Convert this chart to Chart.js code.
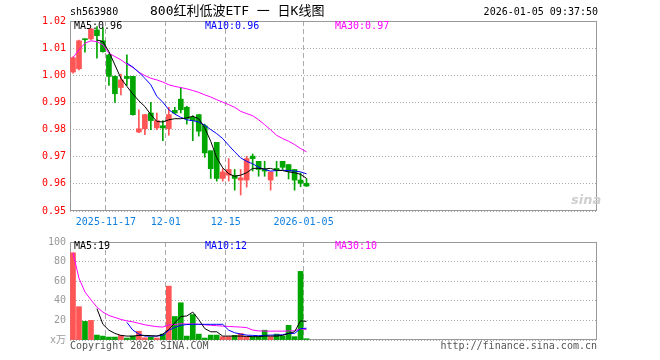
<!DOCTYPE html>
<html>
<head>
<meta charset="utf-8">
<script src="https://cdn.jsdelivr.net/npm/chart.js@4.4.1/dist/chart.umd.min.js"></script>
<style>
  body { margin: 0; background: #fff; width: 660px; height: 360px; overflow: hidden; position: relative;
         font-family: "DejaVu Sans Mono", "Noto Sans CJK SC", monospace; }
  canvas { position: absolute; left: 0; }
  .t { position: absolute; font-size: 10px; line-height: 12px; white-space: nowrap; }
</style>
</head>
<body>
<canvas id="cPrice" width="660" height="232" style="top:0"></canvas>
<canvas id="cVol" width="660" height="128" style="top:232px"></canvas>

<div class="t" style="left:70px;top:6px">sh563980</div>
<div class="t" style="left:150px;top:3px;font-size:13px;line-height:16px">800红利低波ETF 一 日K线图</div>
<div class="t" style="right:62px;top:6px">2026-01-05 09:37:50</div>

<div class="t" style="left:74px;top:20px;color:#000">MA5:0.96</div>
<div class="t" style="left:205px;top:20px;color:#00f">MA10:0.96</div>
<div class="t" style="left:335px;top:20px;color:#f0f">MA30:0.97</div>

<div class="t" style="left:74px;top:240px;color:#000">MA5:19</div>
<div class="t" style="left:205px;top:240px;color:#00f">MA10:12</div>
<div class="t" style="left:335px;top:240px;color:#f0f">MA30:10</div>

<div class="t" style="left:571px;top:192px;font:italic bold 13px 'DejaVu Sans';color:#cfcfcf">sina</div>

<div class="t" style="left:70px;top:340px;color:#555">Copyright 2026 SINA.COM</div>
<div class="t" style="right:63px;top:340px;color:#555">http://finance.sina.com.cn</div>

<script>
// 数据 (读自图片)
const dates = ["2025-11-07","2025-11-10","2025-11-11","2025-11-12","2025-11-13","2025-11-14",
  "2025-11-17","2025-11-18","2025-11-19","2025-11-20","2025-11-21",
  "2025-11-24","2025-11-25","2025-11-26","2025-11-27","2025-11-28",
  "2025-12-01","2025-12-02","2025-12-03","2025-12-04","2025-12-05",
  "2025-12-08","2025-12-09","2025-12-10","2025-12-11","2025-12-12",
  "2025-12-15","2025-12-16","2025-12-17","2025-12-18","2025-12-19",
  "2025-12-22","2025-12-23","2025-12-24","2025-12-25","2025-12-26",
  "2025-12-29","2025-12-30","2025-12-31","2026-01-05"];
const tickIdx = [6, 16, 26, 39];
const tickText = ["2025-11-17", "12-01", "12-15", "2026-01-05"];

const opens  = [1.0012,1.0024,1.0134,1.0134,1.0167,1.0127,1.0075,0.9996,0.9955,0.9996,
                0.9996,0.9791,0.9803,0.9861,0.9806,0.9814,0.9803,0.9871,0.9912,0.9882,
                0.9845,0.9855,0.9814,0.9722,0.9753,0.9620,0.9632,0.9631,0.9614,0.9614,
                0.9702,0.9683,0.9653,0.9614,0.9657,0.9683,0.9671,0.9653,0.9614,0.9602];
const closes = [1.0065,1.0127,1.0131,1.0171,1.0146,1.0087,0.9996,0.9932,0.9983,0.9988,
                0.9855,0.9803,0.9855,0.9833,0.9833,0.9806,0.9855,0.9861,0.9873,0.9840,
                0.9833,0.9794,0.9714,0.9656,0.9620,0.9644,0.9653,0.9620,0.9622,0.9693,
                0.9693,0.9653,0.9647,0.9644,0.9650,0.9661,0.9647,0.9614,0.9602,0.9592];
const highs  = [1.0068,1.0130,1.0134,1.0173,1.0179,1.0176,1.0078,0.9998,1.0004,1.0075,
                0.9996,0.9873,0.9856,0.9900,0.9861,0.9833,0.9882,0.9882,0.9955,0.9886,
                0.9851,0.9855,0.9820,0.9722,0.9753,0.9656,0.9693,0.9653,0.9653,0.9702,
                0.9710,0.9683,0.9683,0.9644,0.9683,0.9683,0.9671,0.9653,0.9640,0.9619];
const lows   = [1.0008,1.0020,1.0085,1.0130,1.0063,1.0085,0.9963,0.9900,0.9928,0.9963,
                0.9853,0.9789,0.9781,0.9800,0.9800,0.9759,0.9779,0.9859,0.9861,0.9820,
                0.9759,0.9776,0.9698,0.9620,0.9610,0.9610,0.9610,0.9577,0.9559,0.9588,
                0.9647,0.9628,0.9628,0.9577,0.9628,0.9653,0.9618,0.9577,0.9590,0.9590];

const ma5  = [null,null,null,null,1.0130,1.0124,1.0087,1.0038,0.9989,0.9959,
              0.9931,0.9906,0.9885,0.9855,0.9830,0.9828,0.9836,0.9840,0.9840,0.9843,
              0.9849,0.9840,0.9806,0.9757,0.9696,0.9659,0.9637,0.9628,0.9632,0.9641,
              0.9657,0.9657,0.9655,0.9657,0.9650,0.9649,0.9644,0.9641,0.9635,0.9620];
const ma10 = [null,null,null,null,null,null,null,null,null,1.0045,
              1.0030,1.0011,0.9989,0.9965,0.9922,0.9901,0.9873,0.9857,0.9845,0.9836,
              0.9833,0.9828,0.9816,0.9800,0.9785,0.9767,0.9742,0.9718,0.9696,0.9683,
              0.9674,0.9661,0.9653,0.9647,0.9649,0.9650,0.9649,0.9647,0.9644,0.9637];
const ma30 = [1.0065,1.0094,1.0118,1.0127,1.0124,1.0112,1.0081,1.0069,1.0057,1.0041,
              1.0029,1.0011,0.9999,0.9989,0.9983,0.9975,0.9965,0.9959,0.9955,0.9950,
              0.9944,0.9937,0.9928,0.9920,0.9910,0.9901,0.9892,0.9882,0.9867,0.9859,
              0.9851,0.9836,0.9818,0.9799,0.9779,0.9767,0.9757,0.9745,0.9730,0.9718];

// 成交量 (万)
const vols = [89,34,19,20,5,4,3,3,4.7,2,
              4,9,2.3,3,2,6,55,24,38,4,
              26,6,2,5,5,3.4,3.4,4.7,6.7,3.4,
              3.4,3.4,10,3.4,6,4,15,3.4,70,1.3];
const volMa5  = [null,null,null,null,32,16,10,6.7,4.7,4,
                 4,4.7,4.7,4.4,4,6,10.7,17.4,24,24.5,
                 28.5,20.8,11.7,8.4,8.4,4,4,4,4,3.7,
                 3.4,3.4,4,4,4,4.7,6.7,8.4,19.5,19];
const volMa10 = [null,null,null,null,null,null,null,null,null,18,
                 10,6,4,4,4,4.7,10,12.8,15,15.8,
                 16,16,16,16,16,16,10,7.4,6,5,
                 4.7,4.4,4.7,5,5,5.4,6.7,6.7,11.7,12];
const volMa30 = [89,63,49,41,33.5,28.5,25,23,21,19.5,
                 18.5,17,15.5,14.5,13.6,13.2,15.5,15.8,16.6,16.2,
                 16.4,16,15.5,15,14.6,14.2,13.8,13.5,13.2,12.6,
                 10.2,9.3,9.1,9.0,9.1,9.0,9.3,9.3,11.5,10.5];

const priceTicks = { min: 0.95, max: 1.02, step: 0.01 };
const volTicks = { min: 0, max: 100, step: 20 };

// 样式
const RED = "#ff5555", GREEN = "#00a600";
const SLOTS = 88;
const labels = dates.concat(new Array(SLOTS - dates.length).fill(""));
const colors = opens.map((o, i) => (closes[i] >= o ? RED : GREEN));

Chart.defaults.font.family = "'DejaVu Sans Mono', 'Noto Sans CJK SC', monospace";
Chart.defaults.font.size = 10;
Chart.defaults.animation = false;

const framePlugin = {
  id: "frame",
  beforeDatasetsDraw(chart) {
    const { ctx, chartArea: a } = chart;
    ctx.save();
    ctx.strokeStyle = "#999";
    ctx.lineWidth = 1;
    ctx.strokeRect(a.left + 0.5, a.top + 0.5, a.right - a.left - 1, a.bottom - a.top - 1);
    ctx.restore();
  }
};

function xScale(showTicks) {
  return {
    type: "category",
    offset: true,
    grid: {
      offset: true,
      drawTicks: false,
      tickLength: 0,
      color: (c) => (tickIdx.includes(c.index) ? "#aaa" : "rgba(0,0,0,0)")
    },
    border: { display: false, dash: [5, 3] },
    ticks: {
      display: showTicks,
      autoSkip: false,
      maxRotation: 0,
      minRotation: 0,
      padding: 5,
      labelOffset: -3,
      color: "#1080e0",
      callback: (v, i) => { const k = tickIdx.indexOf(i); return k >= 0 ? tickText[k] : ""; }
    },
    afterFit: (s) => { s.height = showTicks ? 21 : 0; }
  };
}

function line(data, color) {
  return { type: "line", data, borderColor: color, borderWidth: 1, pointRadius: 0,
           tension: 0, spanGaps: false, order: 0 };
}

// K线图
new Chart(document.getElementById("cPrice"), {
  type: "bar",
  data: {
    labels,
    datasets: [
      line(ma5, "#000"),
      line(ma10, "#00f"),
      line(ma30, "#f0f"),
      { data: opens.map((o, i) => [o, closes[i]]), backgroundColor: colors, barThickness: 5,
        minBarLength: 1, grouped: false, borderWidth: 0, order: 1 },
      { data: lows.map((l, i) => [l, highs[i]]), backgroundColor: colors, barThickness: 1,
        grouped: false, borderWidth: 0, order: 2 }
    ]
  },
  options: {
    responsive: false,
    devicePixelRatio: 1,
    layout: { padding: { top: 21, right: 63, left: 0, bottom: 0 } },
    plugins: { legend: { display: false }, tooltip: { enabled: false } },
    scales: {
      x: xScale(true),
      y: {
        min: priceTicks.min, max: priceTicks.max,
        grid: { drawTicks: false, tickLength: 0, color: "#aaa" },
        border: { display: false, dash: [1, 2] },
        ticks: { stepSize: priceTicks.step, padding: 4, color: "#f00",
                 callback: (v) => v.toFixed(2) },
        afterFit: (s) => { s.width = 70; }
      }
    }
  },
  plugins: [framePlugin]
});

// 成交量
new Chart(document.getElementById("cVol"), {
  type: "bar",
  data: {
    labels,
    datasets: [
      line(volMa5, "#000"),
      line(volMa10, "#00f"),
      line(volMa30, "#f0f"),
      { data: vols, backgroundColor: colors, barThickness: 5, grouped: false, borderWidth: 0, order: 1 }
    ]
  },
  options: {
    responsive: false,
    devicePixelRatio: 1,
    layout: { padding: { top: 8, right: 63, left: 0, bottom: 20 } },
    plugins: { legend: { display: false }, tooltip: { enabled: false } },
    scales: {
      x: xScale(false),
      y: {
        min: volTicks.min, max: volTicks.max,
        grid: { drawTicks: false, tickLength: 0, color: "#aaa" },
        border: { display: false, dash: [1, 2] },
        ticks: { stepSize: volTicks.step, padding: 4, color: "#999",
                 callback: (v) => (v === 0 ? "x万" : v) },
        afterFit: (s) => { s.width = 70; }
      }
    }
  },
  plugins: [framePlugin]
});
</script>
</body>
</html>
